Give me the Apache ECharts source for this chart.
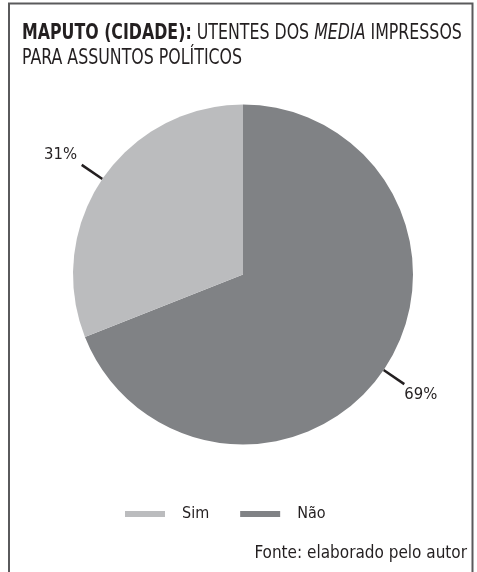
<!DOCTYPE html>
<html>
<head>
<meta charset="utf-8">
<script src="https://cdn.jsdelivr.net/npm/echarts@6/dist/echarts.min.js"></script>
<style>
  html, body { margin: 0; padding: 0; background: #fff; }
  #chart { width: 477px; height: 572px; }
</style>
</head>
<body>
<div id="chart"></div>
<script>
// Print-media usage for political news, Maputo city
const categories = ['Sim', 'Não'];
const values = [31, 69];
const colors = ['#bbbcbe', '#808285'];

const FONT = '"DejaVu Sans Condensed", "DejaVu Sans", sans-serif';
const INK = '#231f20';

const chart = echarts.init(document.getElementById('chart'));

// The small label sits above the end of its leader line, the large one below it
const pieData = categories.map((name, i) => ({
  name: name,
  value: values[i],
  itemStyle: { color: colors[i] },
  label: { formatter: i === 0 ? '{c}% \n ' : ' \n{c}%' }
}));

chart.setOption({
  backgroundColor: '#fff',
  animation: false,
  legend: {
    data: categories,
    bottom: 45,
    left: 120,
    icon: 'rect',
    itemWidth: 40,
    itemHeight: 6,
    itemGap: 31,
    textStyle: { fontFamily: FONT, fontSize: 16, color: INK, padding: [0, 0, 0, 12] }
  },
  graphic: [
    {
      type: 'rect',
      shape: { x: 9, y: 3.5, width: 463.5, height: 600 },
      style: { fill: 'none', stroke: '#5a5a5c', lineWidth: 2 },
      silent: true
    },
    {
      // condensed headline
      type: 'text',
      x: 22,
      y: 21,
      scaleX: 0.837,
      silent: true,
      style: {
        text: '{b|MAPUTO (CIDADE):} UTENTES DOS {i|MEDIA} IMPRESSOS\nPARA ASSUNTOS POLÍTICOS',
        font: '21px ' + FONT,
        fill: INK,
        lineHeight: 25,
        rich: {
          b: { font: 'bold 21px ' + FONT, fill: INK, lineHeight: 25 },
          i: { font: 'italic 21px ' + FONT, fill: INK, lineHeight: 25 }
        }
      }
    },
    {
      type: 'text',
      x: 467,
      y: 545,
      silent: true,
      style: {
        text: 'Fonte: elaborado pelo autor',
        font: '17px ' + FONT,
        fill: INK,
        align: 'right'
      }
    }
  ],
  series: [{
    type: 'pie',
    center: [243, 274.5],
    radius: [0, 170],
    startAngle: 90,
    clockwise: true,
    data: [pieData[1], pieData[0]],
    label: {
      show: true,
      fontFamily: FONT,
      fontSize: 16.5,
      lineHeight: 21,
      color: INK,
      distanceToLabelLine: 0
    },
    labelLine: {
      show: true,
      length: 25,
      length2: 0,
      lineStyle: { color: INK, width: 2.5 }
    },
    emphasis: { disabled: true }
  }]
});
</script>
</body>
</html>
